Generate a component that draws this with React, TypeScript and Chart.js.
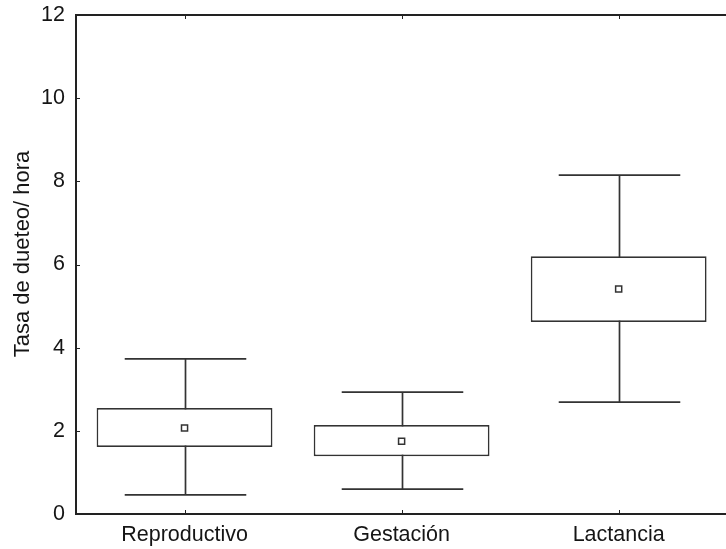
import React, { useEffect, useRef } from "react";
import { Chart, registerables } from "chart.js";

Chart.register(...registerables);

const categories = ["Reproductivo", "Gestación", "Lactancia"];
const whiskerLow = [0.46, 0.6, 2.69];
const boxLow = [1.61, 1.39, 4.62];
const boxHigh = [2.55, 2.14, 6.2];
const whiskerHigh = [3.73, 2.93, 8.15];
const means = [2.07, 1.75, 5.41];
const yTicks = [0, 2, 4, 6, 8, 10, 12];

const LINE = "#333333";
const TEXT = "#151515";
const FONT = "Liberation Sans, Arial, sans-serif";

const boxPlugin = {
  id: "boxWhiskers",
  beforeDatasetsDraw(chart: any) {
    const ctx = chart.ctx;
    const x = chart.scales.x;
    const y = chart.scales.y;
    const capHalf = x.width / categories.length * 0.28;
    ctx.save();
    ctx.strokeStyle = LINE;
    ctx.lineWidth = 1.7;
    categories.forEach((_, i) => {
      const cx = Math.round(x.getPixelForValue(i)) + 0.5;
      const lo = y.getPixelForValue(whiskerLow[i]);
      const hi = y.getPixelForValue(whiskerHigh[i]);
      ctx.beginPath();
      ctx.moveTo(cx, lo);
      ctx.lineTo(cx, hi);
      ctx.moveTo(cx - capHalf, lo);
      ctx.lineTo(cx + capHalf, lo);
      ctx.moveTo(cx - capHalf, hi);
      ctx.lineTo(cx + capHalf, hi);
      ctx.stroke();
    });
    ctx.restore();
  },
  afterDraw(chart: any) {
    const ctx = chart.ctx;
    const a = chart.chartArea;
    const x = chart.scales.x;
    const y = chart.scales.y;
    ctx.save();
    ctx.strokeStyle = "#222222";
    ctx.lineWidth = 2;
    ctx.beginPath();
    ctx.moveTo(a.left - 1, a.top);
    ctx.lineTo(a.right, a.top);
    ctx.stroke();
    ctx.lineWidth = 1;
    ctx.beginPath();
    categories.forEach((_, i) => {
      const cx = Math.round(x.getPixelForValue(i)) + 0.5;
      ctx.moveTo(cx, a.top);
      ctx.lineTo(cx, a.top + 4);
      ctx.moveTo(cx, a.bottom);
      ctx.lineTo(cx, a.bottom - 4);
    });
    yTicks.forEach((v) => {
      const py = Math.round(y.getPixelForValue(v)) + 0.5;
      ctx.moveTo(a.left, py);
      ctx.lineTo(a.left + 4, py);
    });
    ctx.stroke();
    // y axis title
    ctx.fillStyle = TEXT;
    ctx.font = "22px " + FONT;
    ctx.textAlign = "center";
    ctx.textBaseline = "middle";
    ctx.translate(23, 254);
    ctx.rotate(-Math.PI / 2);
    ctx.fillText("Tasa de dueteo/ hora", 0, 0);
    ctx.restore();
  },
};

export default function App() {
  const ref = useRef<HTMLCanvasElement | null>(null);
  useEffect(() => {
    document.body.style.margin = "0";
    const canvas = ref.current;
    if (!canvas) return;
    const chart = new Chart(canvas, {
      type: "bar",
      data: {
        labels: categories,
        datasets: [
          {
            type: "bar",
            data: categories.map((_, i) => [boxLow[i], boxHigh[i]]) as any,
            backgroundColor: "#ffffff",
            borderColor: LINE,
            borderWidth: 1.7,
            borderSkipped: false,
            categoryPercentage: 1,
            barPercentage: 0.81,
            order: 2,
          } as any,
          {
            type: "line",
            data: means,
            showLine: false,
            pointStyle: "rect",
            pointRadius: 4.3,
            pointBackgroundColor: "#ffffff",
            pointBorderColor: LINE,
            pointBorderWidth: 1.5,
            order: 1,
          } as any,
        ],
      },
      options: {
        responsive: false,
        animation: false,
        events: [],
        layout: { padding: { top: 15, left: 0, right: 0, bottom: 0 } },
        plugins: { legend: { display: false }, tooltip: { enabled: false } },
        scales: {
          x: {
            grid: { display: true, drawOnChartArea: false, drawTicks: false },
            border: { display: true, color: "#222222", width: 2 },
            ticks: { color: TEXT, font: { family: FONT, size: 21.5 }, padding: 8 },
            afterFit: (s: any) => { s.height = 35; s.paddingLeft = 0; s.paddingRight = 0; },
          },
          y: {
            min: 0,
            max: 12,
            afterBuildTicks: (s: any) => { s.ticks = yTicks.map((v) => ({ value: v })); },
            grid: { display: true, drawOnChartArea: false, drawTicks: false },
            border: { display: true, color: "#222222", width: 2 },
            ticks: { color: TEXT, font: { family: FONT, size: 21.5 }, padding: 11 },
            title: { display: false },
            afterFit: (s: any) => { s.width = 76; s.paddingTop = 0; s.paddingBottom = 0; },
          },
        },
      },
      plugins: [boxPlugin],
    });
    return () => chart.destroy();
  }, []);
  return (
    <div style={{ width: 726, height: 549, overflow: "hidden", background: "#ffffff", position: "relative" }}>
      <canvas ref={ref} width={733} height={549} style={{ display: "block" }} />
    </div>
  );
}
